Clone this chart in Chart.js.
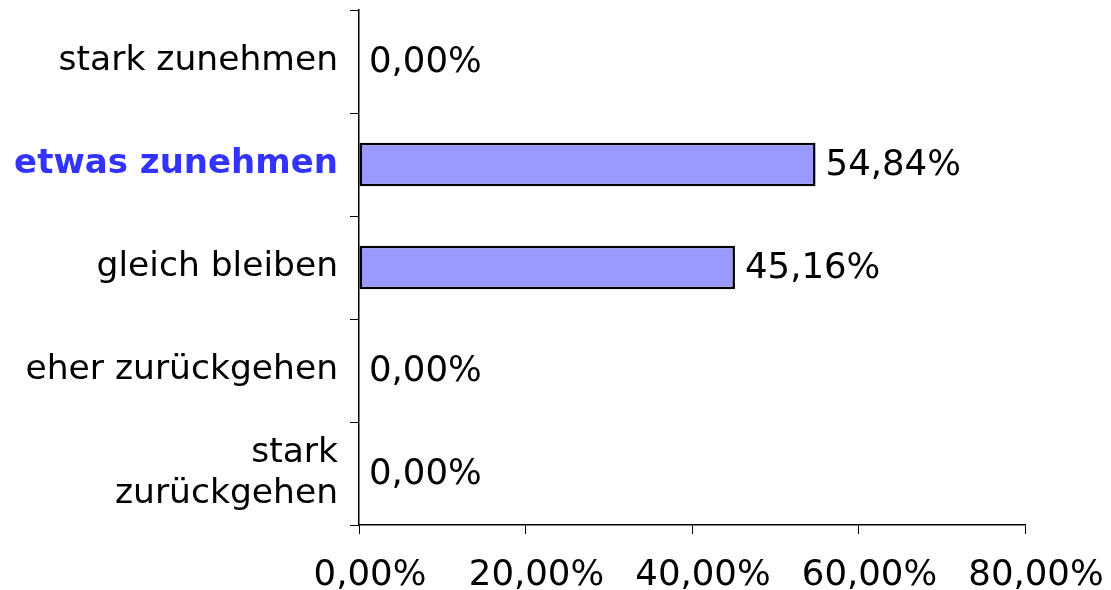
<!DOCTYPE html>
<html>
<head>
<meta charset="utf-8">
<script src="https://cdn.jsdelivr.net/npm/chart.js@4/dist/chart.umd.min.js"></script>
<style>
  html, body { margin: 0; padding: 0; background: #fff; }
  #wrap { width: 1111px; height: 590px; }
</style>
</head>
<body>
<div id="wrap"><canvas id="myChart" width="1111" height="590"></canvas></div>
<script>
var categories = ['stark zunehmen', 'etwas zunehmen', 'gleich bleiben', 'eher zurückgehen', ['stark', 'zurückgehen']];
var shares = [0.00, 54.84, 45.16, 0.00, 0.00];
var xTicks = [0, 20, 40, 60, 80];
var highlightIndex = 1;

function pct(v) {
  return v.toFixed(2).replace('.', ',') + '%';
}

// value labels next to each bar
var valueLabels = {
  id: 'valueLabels',
  afterDatasetsDraw: function(chart) {
    var ctx = chart.ctx;
    var meta = chart.getDatasetMeta(0);
    ctx.save();
    ctx.font = '35.5px "DejaVu Sans"';
    ctx.fillStyle = '#000';
    ctx.textAlign = 'left';
    ctx.textBaseline = 'middle';
    meta.data.forEach(function(bar, i) {
      ctx.fillText(pct(shares[i]), bar.x + 10, bar.y + 1);
    });
    ctx.restore();
  }
};

var ctx = document.getElementById('myChart').getContext('2d');
var myChart = new Chart(ctx, {
  type: 'bar',
  data: {
    labels: categories,
    datasets: [{
      data: shares,
      backgroundColor: '#9999ff',
      borderColor: '#000000',
      borderWidth: 2.5,
      borderSkipped: false,
      categoryPercentage: 1,
      barPercentage: 0.42
    }]
  },
  options: {
    indexAxis: 'y',
    responsive: false,
    animation: false,
    layout: { padding: { top: 10, right: 86, left: 0, bottom: 0 } },
    plugins: {
      legend: { display: false },
      tooltip: { enabled: false }
    },
    scales: {
      x: {
        min: 0,
        max: 80,
        afterBuildTicks: function(scale) {
          scale.ticks = xTicks.map(function(v) { return { value: v }; });
        },
        afterFit: function(scale) {
          scale.height = 65;
          scale.paddingLeft = 0;
          scale.paddingRight = 0;
        },
        border: { display: true, color: '#000', width: 1.5 },
        grid: { drawOnChartArea: false, drawTicks: true, tickLength: 9, color: '#000' },
        ticks: {
          autoSkip: false,
          maxRotation: 0,
          padding: 20,
          labelOffset: 11,
          color: '#000',
          font: { family: 'DejaVu Sans', size: 35.5 },
          callback: function(v) { return pct(v); }
        }
      },
      y: {
        afterFit: function(scale) {
          scale.width = 359;
          scale.paddingTop = 0;
          scale.paddingBottom = 0;
        },
        border: { display: true, color: '#000', width: 1.5 },
        grid: { drawOnChartArea: false, drawTicks: true, tickLength: 9, color: '#000' },
        ticks: {
          padding: 12,
          color: function(c) { return c.index === highlightIndex ? '#3333ff' : '#000'; },
          font: function(c) {
            return c.index === highlightIndex
              ? { family: 'DejaVu Sans', size: 34, weight: 'bold' }
              : { family: 'DejaVu Sans', size: 34.5 };
          }
        }
      }
    }
  },
  plugins: [valueLabels]
});
</script>
</body>
</html>
